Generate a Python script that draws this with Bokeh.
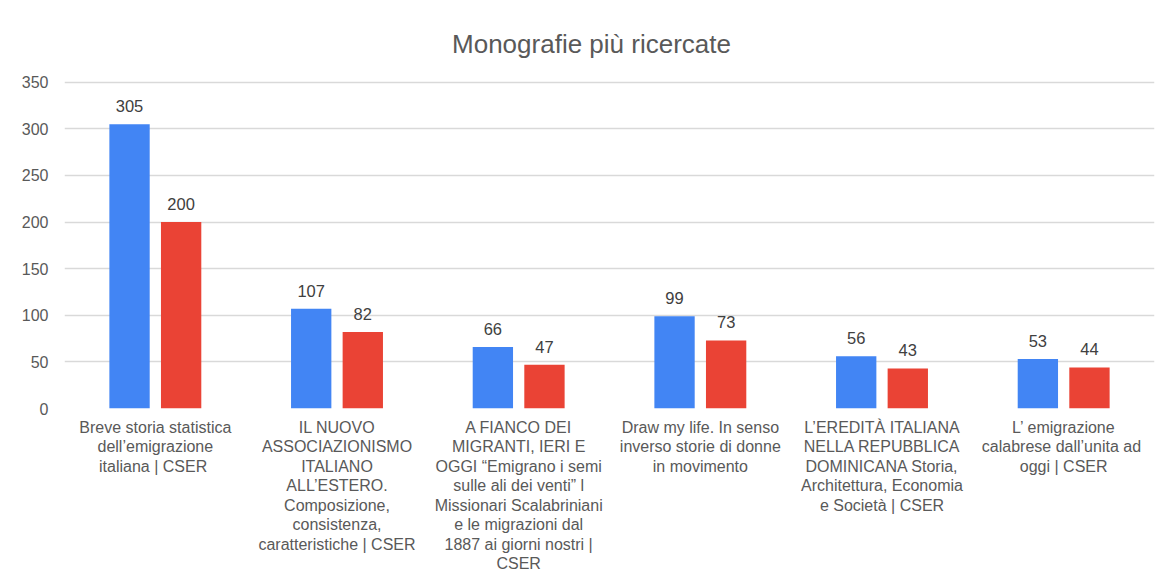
from bokeh.plotting import figure
from bokeh.models import ColumnDataSource, Label, FixedTicker, Range1d, FactorRange
from bokeh.transform import dodge
from bokeh.core.properties import value
from bokeh.embed import file_html
from bokeh.resources import INLINE

categories = [
    "Breve storia statistica\ndell’emigrazione\nitaliana  | CSER",
    "IL NUOVO\nASSOCIAZIONISMO\nITALIANO\nALL’ESTERO.\nComposizione,\nconsistenza,\ncaratteristiche | CSER",
    "A FIANCO DEI\nMIGRANTI, IERI E\nOGGI “Emigrano i semi\nsulle ali dei venti” l\nMissionari Scalabriniani\ne le migrazioni dal\n1887 ai giorni nostri |\nCSER",
    "Draw my life. In senso\ninverso storie di donne\nin movimento",
    "L’EREDITÀ ITALIANA\nNELLA REPUBBLICA\nDOMINICANA Storia,\nArchitettura, Economia\ne Società | CSER",
    "L’ emigrazione\ncalabrese dall’unita  ad\noggi | CSER",
]
series_a = [305, 107, 66, 99, 56, 53]
series_b = [200, 82, 47, 73, 43, 44]
y_ticks = [0, 50, 100, 150, 200, 250, 300, 350]
title_text = "Monografie più ricercate"

FONT = "Liberation Sans"
GREY = "#595959"
BLUE = "#4285F4"
RED = "#EA4335"

src = ColumnDataSource(dict(
    x=categories, a=series_a, b=series_b,
    at=[str(v) for v in series_a], bt=[str(v) for v in series_b],
))

W, H = 1155, 575
frame_left, frame_right, frame_bottom = 64, 1154, 409
px_per_unit = (409 - 82) / 350.0
y_top = frame_bottom / px_per_unit

p = figure(
    width=W, height=H,
    x_range=FactorRange(*categories, range_padding=0),
    y_range=Range1d(0, y_top),
    output_backend="svg", toolbar_location=None,
    min_border_left=frame_left, min_border_right=W - frame_right,
    min_border_top=0, min_border_bottom=H - frame_bottom,
)
p.outline_line_color = None
p.background_fill_color = "white"
p.border_fill_color = "white"

bw = 0.222
off = 0.142
p.vbar(x=dodge("x", -off, range=p.x_range), top="a", width=bw, source=src,
       fill_color=BLUE, line_color=None)
p.vbar(x=dodge("x", off, range=p.x_range), top="b", width=bw, source=src,
       fill_color=RED, line_color=None)

p.text(x=dodge("x", -off, range=p.x_range), y="a", text="at", source=src,
       text_align="center", text_baseline="bottom", y_offset=-12,
       text_font_size="16.5px", text_color="#404040", text_font=value(FONT))
p.text(x=dodge("x", off, range=p.x_range), y="b", text="bt", source=src,
       text_align="center", text_baseline="bottom", y_offset=-12,
       text_font_size="16.5px", text_color="#404040", text_font=value(FONT))

# axes
p.yaxis.ticker = FixedTicker(ticks=y_ticks)
p.yaxis.axis_line_color = None
p.yaxis.major_tick_line_color = None
p.yaxis.minor_tick_line_color = None
p.yaxis.major_tick_out = 0
p.yaxis.major_label_standoff = 16
p.yaxis.major_label_text_font = FONT
p.yaxis.major_label_text_font_size = "16px"
p.yaxis.major_label_text_color = GREY

p.xaxis.axis_line_color = None
p.xaxis.major_tick_line_color = None
p.xaxis.major_tick_out = 0
p.xaxis.major_label_standoff = 10
p.xaxis.major_label_text_font = FONT
p.xaxis.major_label_text_font_size = "16px"
p.xaxis.major_label_text_color = GREY
p.xaxis.major_label_text_line_height = 1.15

p.xgrid.grid_line_color = None
p.ygrid.grid_line_color = "#d9d9d9"
p.ygrid.grid_line_width = 1.3

# title
p.add_layout(Label(x=6 * (591 - frame_left) / (frame_right - frame_left),
                   y=(frame_bottom - 44) / px_per_unit, text=title_text,
                   text_align="center", text_baseline="middle",
                   text_font=FONT, text_font_size="26px", text_color=GREY))

open("out.html", "w").write(file_html(p, INLINE))
